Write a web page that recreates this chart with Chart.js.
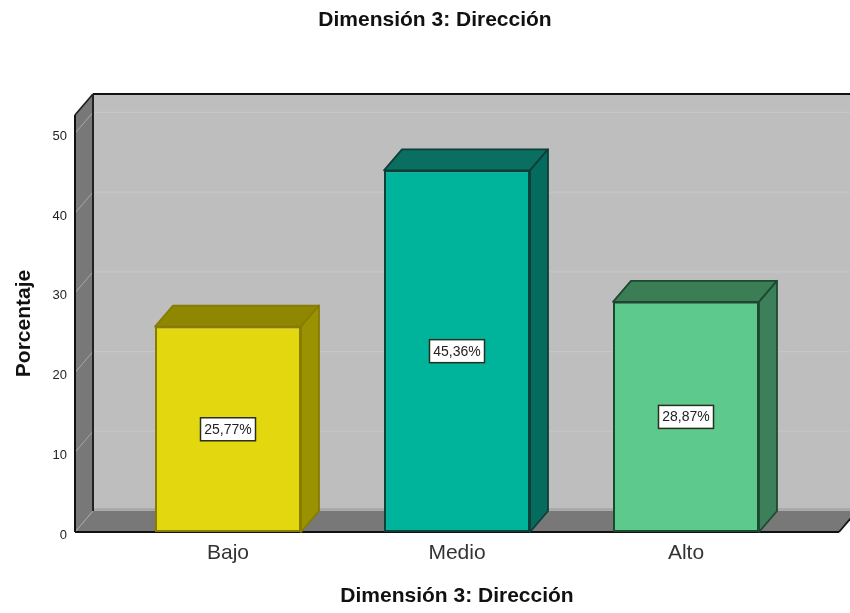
<!DOCTYPE html>
<html>
<head>
<meta charset="utf-8">
<script src="https://cdn.jsdelivr.net/npm/chart.js@4"></script>
<style>
  body { margin: 0; background: #fff; }
</style>
</head>
<body>
<canvas id="myChart" width="850" height="613"></canvas>
<script>
var categories = ['Bajo', 'Medio', 'Alto'];
var percentages = [25.77, 45.36, 28.87];
var yTicks = [0, 10, 20, 30, 40, 50];
var chartTitle = 'Dimensión 3: Dirección';

var barFaces = ['#e3d80f', '#00b39b', '#5ec98c'];
var barTops = ['#8f8700', '#0a6f60', '#3b7d55'];
var barSides = ['#9a9200', '#066b5f', '#3c7f58'];
var barEdges = ['#857c00', '#0c3f38', '#1c4a30'];

// oblique offset of the back wall
var depthX = 18;
var depthY = -21;
var fontName = '"Liberation Sans", Arial, sans-serif';

function poly(ctx, pts, fill, stroke, lw) {
  ctx.beginPath();
  ctx.moveTo(pts[0][0], pts[0][1]);
  for (var i = 1; i < pts.length; i++) ctx.lineTo(pts[i][0], pts[i][1]);
  ctx.closePath();
  if (fill) { ctx.fillStyle = fill; ctx.fill(); }
  if (stroke) { ctx.strokeStyle = stroke; ctx.lineWidth = lw || 1; ctx.stroke(); }
}

function segment(ctx, x1, y1, x2, y2, color, lw) {
  ctx.beginPath();
  ctx.moveTo(x1, y1);
  ctx.lineTo(x2, y2);
  ctx.strokeStyle = color;
  ctx.lineWidth = lw;
  ctx.stroke();
}

// back wall, left wall, floor, and the extruded sides of the bars
var box3d = {
  id: 'box3d',
  beforeDatasetsDraw: function (chart) {
    var ctx = chart.ctx;
    var area = chart.chartArea;
    var y = chart.scales.y;
    var left = area.left - 38.5;
    var right = area.right + 38.5;
    var top = area.top;
    var bottom = area.bottom;

    ctx.save();
    ctx.lineJoin = 'round';
    ctx.fillStyle = '#bebebe';
    ctx.fillRect(left + depthX, top + depthY, chart.width - left - depthX, bottom - top);

    yTicks.forEach(function (v) {
      var py = y.getPixelForValue(v);
      if (v > 0) segment(ctx, left + depthX, py + depthY, chart.width, py + depthY, '#c6c6c6', 1.2);
    });

    poly(ctx, [[left, top], [left + depthX, top + depthY], [left + depthX, bottom + depthY], [left, bottom]], '#787878');
    poly(ctx, [[left, bottom], [left + depthX, bottom + depthY], [right + depthX, bottom + depthY], [right, bottom]], '#787878');

    yTicks.forEach(function (v) {
      var py = y.getPixelForValue(v);
      segment(ctx, left, py, left + depthX, py + depthY, '#a8a8a8', 1);
    });

    segment(ctx, left + depthX, bottom + depthY - 1.5, chart.width, bottom + depthY - 1.5, '#a6a6a6', 2.5);
    segment(ctx, left + depthX, top + depthY, chart.width, top + depthY, '#111', 1.8);
    segment(ctx, left + depthX, top + depthY, left + depthX, bottom + depthY, '#222', 2);
    segment(ctx, left, top, left + depthX, top + depthY, '#222', 1.8);
    segment(ctx, left, top, left, bottom, '#111', 2);
    segment(ctx, left, bottom, right, bottom, '#111', 2);
    segment(ctx, right, bottom, right + depthX, bottom + depthY, '#111', 1.8);

    chart.getDatasetMeta(0).data.forEach(function (bar, i) {
      var p = bar.getProps(['x', 'y', 'base', 'width'], true);
      var l = p.x - p.width / 2;
      var r = p.x + p.width / 2;
      poly(ctx, [[l, p.y], [l + depthX, p.y + depthY], [r + depthX, p.y + depthY], [r, p.y]], barTops[i], barEdges[i], 1.8);
      poly(ctx, [[r, p.y], [r + depthX, p.y + depthY], [r + depthX, p.base + depthY], [r, p.base]], barSides[i], barEdges[i], 1.8);
    });
    ctx.restore();
  },
  afterDatasetsDraw: function (chart) {
    var ctx = chart.ctx;
    ctx.save();
    ctx.font = '14px ' + fontName;
    ctx.textAlign = 'center';
    ctx.textBaseline = 'middle';
    chart.getDatasetMeta(0).data.forEach(function (bar, i) {
      var p = bar.getProps(['x', 'y', 'base'], true);
      var cy = (p.y + p.base) / 2;
      ctx.fillStyle = '#fff';
      ctx.fillRect(p.x - 27.5, cy - 11.5, 55, 23);
      ctx.strokeStyle = '#26301f';
      ctx.lineWidth = 1.5;
      ctx.strokeRect(p.x - 27.5, cy - 11.5, 55, 23);
      ctx.fillStyle = '#222';
      ctx.fillText(percentages[i].toFixed(2).replace('.', ',') + '%', p.x, cy + 0.5);
    });
    ctx.restore();
  },
  // the heading sits left of the plot centre
  afterLayout: function (chart) {
    chart.titleBlock.left = 20;
    chart.titleBlock.right = 850;
  }
};

var ctx = document.getElementById('myChart').getContext('2d');
var chart = new Chart(ctx, {
  type: 'bar',
  data: {
    labels: categories,
    datasets: [{
      data: percentages,
      backgroundColor: barFaces,
      borderColor: barEdges,
      borderWidth: 2,
      borderSkipped: false,
      barPercentage: 0.6376,
      categoryPercentage: 1
    }]
  },
  plugins: [box3d],
  options: {
    responsive: false,
    animation: false,
    layout: { padding: { left: 12, right: 49.5, top: 0, bottom: 0 } },
    plugins: {
      legend: { display: false },
      tooltip: { enabled: false },
      title: {
        display: true,
        text: chartTitle,
        color: '#111',
        font: { family: fontName, size: 21, weight: 'bold' },
        padding: { top: 8, bottom: 81.8 }
      }
    },
    scales: {
      x: {
        grid: { display: false },
        border: { display: false },
        ticks: { color: '#333', font: { family: fontName, size: 21 }, padding: 1, maxRotation: 0 },
        title: {
          display: true,
          text: chartTitle,
          color: '#111',
          font: { family: fontName, size: 21, weight: 'bold' },
          padding: { top: 14, bottom: 4 }
        },
        afterFit: function (axis) { axis.height = 81; }
      },
      y: {
        min: 0,
        max: 52.3,
        grid: { display: false, drawTicks: false },
        border: { display: false },
        ticks: { color: '#222', font: { family: fontName, size: 13 }, padding: 46.5, labelOffset: 3 },
        afterBuildTicks: function (axis) {
          axis.ticks = yTicks.map(function (v) { return { value: v }; });
        },
        title: {
          display: true,
          text: 'Porcentaje',
          color: '#111',
          font: { family: fontName, size: 21, weight: 'bold' },
          padding: 0
        },
        afterFit: function (axis) { axis.width = 101.5; }
      }
    }
  }
});
</script>
</body>
</html>
